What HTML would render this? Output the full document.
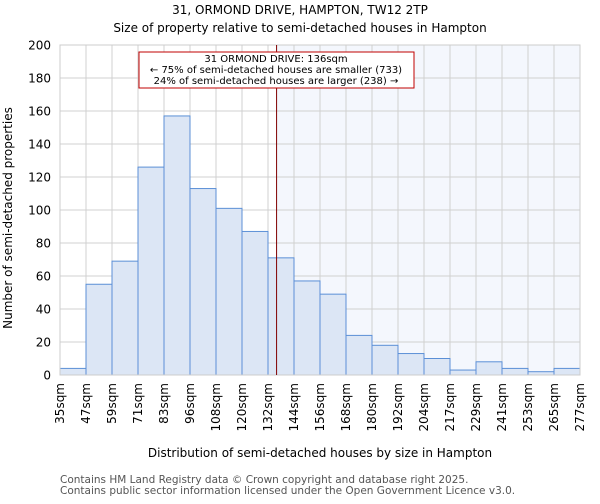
<!DOCTYPE html>
<html><head><meta charset="utf-8"><style>
body{margin:0;background:#fff;font-family:"DejaVu Sans","Liberation Sans",sans-serif}
</style></head><body>
<svg id="chart" width="600" height="500" xmlns="http://www.w3.org/2000/svg" font-family="DejaVu Sans, Liberation Sans, sans-serif">
<text x="300" y="14" text-anchor="middle" font-size="12">31, ORMOND DRIVE, HAMPTON, TW12 2TP</text>
<text x="300" y="32" text-anchor="middle" font-size="12">Size of property relative to semi-detached houses in Hampton</text>
<g id="plot"></g>
<text x="320" y="457" text-anchor="middle" font-size="12">Distribution of semi-detached houses by size in Hampton</text>
<text transform="translate(12,218) rotate(-90)" text-anchor="middle" font-size="12">Number of semi-detached properties</text>
<text x="60" y="483" font-size="10.5" fill="#555">Contains HM Land Registry data © Crown copyright and database right 2025.</text>
<text x="60" y="494" font-size="10.5" fill="#555">Contains public sector information licensed under the Open Government Licence v3.0.</text>
</svg>
<script>
const binLabels=["35sqm","47sqm","59sqm","71sqm","83sqm","96sqm","108sqm","120sqm","132sqm","144sqm","156sqm","168sqm","180sqm","192sqm","204sqm","217sqm","229sqm","241sqm","253sqm","265sqm","277sqm"];
const counts=[4,55,69,126,157,113,101,87,71,57,49,24,18,13,10,3,8,4,2,4];
const yTicks=[0,20,40,60,80,100,120,140,160,180,200];
const markerIndex=8.33;
const NS="http://www.w3.org/2000/svg";
const L=60,R=580,T=45,B=375,yMax=200;
const bw=(R-L)/counts.length;
const xs=i=>L+i*bw;
const ys=v=>B-(v/yMax)*(B-T);
const g=document.getElementById('plot');
function mk(t,a){const e=document.createElementNS(NS,t);for(const k in a)e.setAttribute(k,a[k]);g.appendChild(e);return e;}
const mx=xs(markerIndex);
let e=mk('rect',{x:mx,y:T,width:R-mx,height:B-T,fill:'#f4f7fd'});


for(let i=0;i<=counts.length;i++){e=mk('line',{x1:xs(i),x2:xs(i),y1:T,y2:B,stroke:'#d0d0d0','stroke-width':1});

}
yTicks.forEach(v=>{e=mk('line',{x1:L,x2:R,y1:ys(v),y2:ys(v),stroke:'#d0d0d0','stroke-width':1});


e=mk('text',{x:L-9,y:ys(v)+4.5,'text-anchor':'end','font-size':12});e.textContent=v;

});
counts.forEach((c,i)=>{e=mk('rect',{x:xs(i),y:ys(c),width:bw,height:B-ys(c),fill:'#dce6f5',stroke:'#5b8fd6','stroke-width':1});

});
binLabels.forEach((l,i)=>{const x=xs(i)+4;e=mk('text',{x:x,y:B+8,'text-anchor':'end','font-size':12,transform:`rotate(-90 ${x} ${B+8})`});e.textContent=l;

});
e=mk('rect',{x:L,y:T,width:R-L,height:B-T,fill:'none',stroke:'#ccc'});


e=mk('line',{x1:mx,x2:mx,y1:T,y2:B,stroke:'#800000','stroke-width':1});


e=mk('rect',{x:139,y:52,width:275,height:36,fill:'#fff',stroke:'#c00000','stroke-width':1});


["31 ORMOND DRIVE: 136sqm","← 75% of semi-detached houses are smaller (733)","24% of semi-detached houses are larger (238) →"].forEach((t,i)=>{e=mk('text',{x:276,y:62+i*11,'text-anchor':'middle','font-size':10});e.textContent=t;

});
</script>
</body></html>
